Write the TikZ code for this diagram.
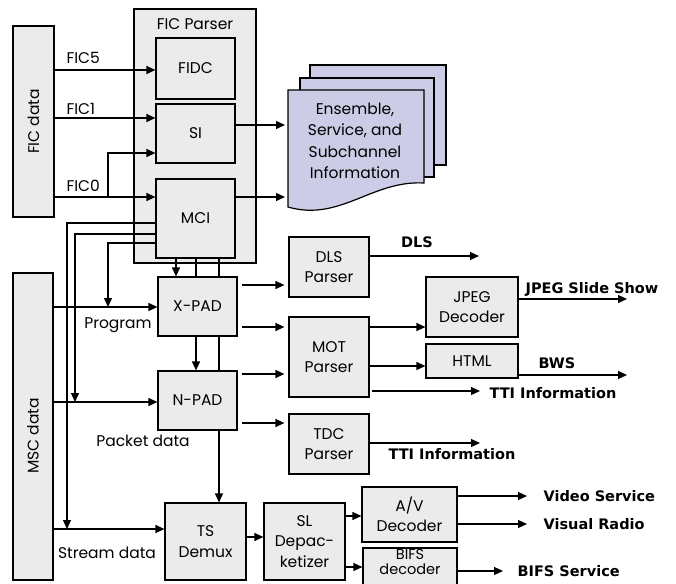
\documentclass[tikz,border=0pt]{standalone}
\usepackage{fontspec}
\setmainfont{Poppins}
\newfontfamily\boldlab{DejaVu Sans}
\usetikzlibrary{arrows.meta}
\definecolor{boxfill}{RGB}{235,235,235}
\definecolor{docfill}{RGB}{204,204,230}
\tikzset{
  every picture/.style={line width=1.2pt},
  box/.style={draw=black, fill=boxfill, line width=1.2pt, align=center, inner sep=0pt,
    font=\fontsize{15.5}{20.5}\selectfont},
  arr/.style={-{Triangle[length=9pt,width=8pt]}, line width=1.2pt},
  ln/.style={line width=1.2pt},
  lab/.style={font=\fontsize{15.5}{20}\selectfont, inner sep=0pt},
  blab/.style={font=\boldlab\bfseries\fontsize{14.5}{17}\selectfont, inner sep=0pt, anchor=west},
}
\begin{document}
\begin{tikzpicture}[x=1pt,y=-1pt]
\useasboundingbox (0,0) rectangle (676,583);
\clip (0,0) rectangle (676,583);

% ---- FIC part ----
\node[box, minimum width=41pt, minimum height=191pt] (ficdata) at (33.5,121.5) {};
\node[lab, rotate=90] (ficdatalab) at (33.5,121.5) {FIC data};
\node[box, minimum width=122pt, minimum height=254pt] (ficparser) at (195,136) {};
\node[lab] (ficparserlab) at (195,24) {FIC Parser};
\node[box, minimum width=79pt, minimum height=61pt] (fidc) at (195.5,68.5) {FIDC};
\node[box, minimum width=79pt, minimum height=59pt] (si) at (195.5,133.5) {SI};
\node[box, minimum width=79pt, minimum height=79pt] (mci) at (195.5,218.5) {\raisebox{-6pt}{MCI}};

% ---- document stack ----
\draw[fill=docfill, line width=1.2pt] (310,65) rectangle (446,165);
\draw[fill=docfill, line width=1.2pt] (300,78) rectangle (434,177);
\draw[fill=docfill, line width=1.2pt] (288,90) -- (424,90) -- (424,183)
   .. controls (372,180) and (340,222) .. (288,207) -- cycle;
\node[lab, align=center, font=\fontsize{15.5}{21.5}\selectfont] (docs) at (355,141)
   {Ensemble,\\Service, and\\Subchannel\\Information};
\coordinate (docin) at (285,0);

% ---- MSC part ----
\node[box, minimum width=40pt, minimum height=307pt] (mscdata) at (33,426.5) {};
\node[lab, rotate=90] (mscdatalab) at (33,436) {MSC data};
\node[box, minimum width=79pt, minimum height=59pt] (xpad) at (197.5,306.5) {X-PAD};
\node[box, minimum width=79pt, minimum height=59pt] (npad) at (197.5,400.5) {N-PAD};
\node[box, minimum width=81pt, minimum height=77pt] (ts) at (205.5,541.5) {TS\\Demux};
\node[box, minimum width=81pt, minimum height=77pt] (sl) at (304.5,541.5) {SL\\Depac-\\ketizer};
\node[box, minimum width=80pt, minimum height=60pt] (dls) at (329,267) {DLS\\Parser};
\node[box, minimum width=80pt, minimum height=80pt] (mot) at (329,357) {MOT\\Parser};
\node[box, minimum width=80pt, minimum height=60pt] (tdc) at (329,444) {TDC\\Parser};
\node[box, minimum width=92pt, minimum height=60pt] (jpeg) at (472,307) {JPEG\\Decoder};
\node[box, minimum width=92pt, minimum height=34pt] (html) at (472,361) {HTML};
\node[box, minimum width=95pt, minimum height=55pt] (av) at (409.5,514.5) {A/V\\Decoder};
\node[box, minimum width=94pt, minimum height=52pt] (bifs) at (410,574) {};
\node[lab, align=center, font=\fontsize{14.5}{15.5}\selectfont] (bifstext) at (410,562) {BIFS\\decoder};

\node[lab] (proglab) at (118,325) {Program};
\node[lab] (packlab) at (143,441) {Packet data};
\node[lab] (streamlab) at (107,553) {Stream data};

% ---- FIC connectors ----
\draw[arr] (ficdata.east |- 0,70) -- (fidc.west |- 0,70);
\node[lab, anchor=west] (fic5) at (66,58) {FIC5};
\draw[arr] (ficdata.east |- 0,118) -- (si.west |- 0,118);
\node[lab, anchor=west] (fic1) at (66,109) {FIC1};
\draw[arr] (ficdata.east |- 0,197) -- (mci.west |- 0,197);
\node[lab, anchor=west] (fic0) at (66,186) {FIC0};
\coordinate (br) at (108,197);
\draw[arr] (br) |- (si.west |- 0,153);
\draw[arr] (si.east |- 0,125) -- (docin |- 0,125);
\draw[arr] (mci.east |- 0,197) -- (docin |- 0,197);

% ---- MCI control lines ----
\coordinate (c1) at (67,0);
\coordinate (c2) at (75,0);
\coordinate (c3) at (108,0);
\draw[ln] (mci.west |- 0,223) -| (c1 |- 0,260);
\draw[arr] (c1 |- 0,255) -- (c1 |- 0,529);
\draw[ln] (mci.west |- 0,234) -| (c2 |- 0,260);
\draw[arr] (c2 |- 0,255) -- (c2 |- 0,402);
\draw[arr] (mci.west |- 0,243) -| (c3 |- 0,307);

\draw[arr] (176,0 |- mci.south) -- (176,0 |- xpad.north);
\draw[ln] (196,0 |- mci.south) -- (196,0 |- xpad.north);
\draw[ln] (219,0 |- mci.south) -- (219,0 |- xpad.north);
\draw[arr] (196,0 |- xpad.south) -- (196,0 |- npad.north);
\draw[ln] (219,0 |- xpad.south) -- (219,0 |- npad.north);
\draw[arr] (219,0 |- npad.south) -- (219,0 |- ts.north);

% ---- MSC connectors ----
\draw[arr] (mscdata.east |- 0,307) -- (xpad.west |- 0,307);
\draw[arr] (mscdata.east |- 0,402) -- (npad.west |- 0,402);
\draw[arr] (mscdata.east |- 0,529) -- (ts.west |- 0,529);

\draw[arr, shorten <=4pt, shorten >=4pt] (xpad.east |- 0,285) -- (dls.west |- 0,285);
\draw[arr, shorten <=4pt, shorten >=4pt] (xpad.east |- 0,327) -- (mot.west |- 0,327);
\draw[arr, shorten <=4pt, shorten >=4pt] (npad.east |- 0,374) -- (mot.west |- 0,374);
\draw[arr, shorten <=4pt, shorten >=4pt] (npad.east |- 0,423) -- (tdc.west |- 0,423);

\coordinate (dlsend) at (479,256);
\draw[arr] (dls.east |- dlsend) -- (dlsend);
\node[blab, anchor=center] (dlslab) at (417,242) {DLS};
\draw[arr] (mot.east |- 0,327) -- (jpeg.west |- 0,327);
\draw[arr] (mot.east |- 0,366) -- (html.west |- 0,366);
\coordinate (ttiend) at (480,391);
\draw[arr, shorten <=2pt] (mot.east |- ttiend) -- (ttiend);
\node[blab] (tti1) at (489,393) {TTI Information};
\coordinate (jpgend) at (627,299);
\draw[arr] (jpeg.east |- jpgend) -- (jpgend);
\node[blab] (jpglab) at (525,289) {JPEG Slide Show};
\coordinate (bwsend) at (627,375);
\draw[arr] (html.east |- bwsend) -- (bwsend);
\node[blab] (bwslab) at (538,363) {BWS};
\coordinate (tdcend) at (480,443);
\draw[arr] (tdc.east |- tdcend) -- (tdcend);
\node[blab] (tti2) at (388,454) {TTI Information};

\draw[arr] (ts.east |- 0,537) -- (sl.west |- 0,537);
\draw[arr] (sl.east |- 0,516) -- (av.west |- 0,516);
\draw[arr] (sl.east |- 0,567) -- (bifs.west |- 0,567);
\coordinate (vidend) at (527,496);
\draw[arr] (av.east |- vidend) -- (vidend);
\node[blab] (vidlab) at (543,496) {Video Service};
\coordinate (visend) at (527,524);
\draw[arr] (av.east |- visend) -- (visend);
\node[blab] (vislab) at (543,524) {Visual Radio};
\coordinate (bifsend) at (503,571);
\draw[arr] (bifs.east |- bifsend) -- (bifsend);
\node[blab] (bifslab) at (517,571) {BIFS Service};
\end{tikzpicture}
\end{document}
